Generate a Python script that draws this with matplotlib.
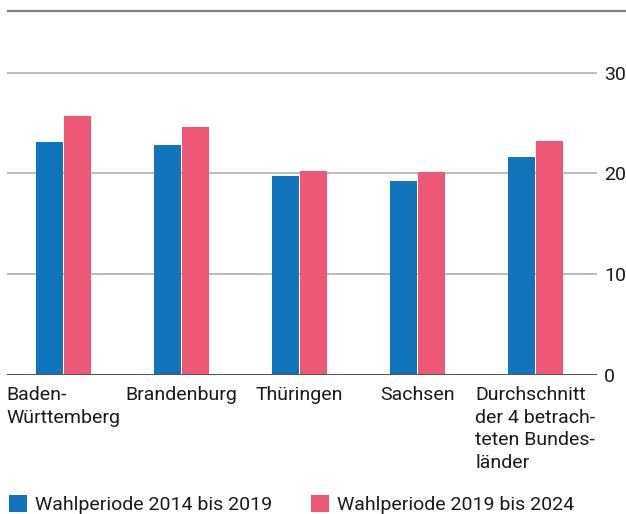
import numpy as np
import matplotlib.pyplot as plt
from matplotlib.lines import Line2D

plt.rcParams['font.family'] = ['Roboto', 'DejaVu Sans']

# Daten
laender = ['Baden-\nWürttemberg', 'Brandenburg', 'Thüringen', 'Sachsen',
           'Durchschnitt\nder 4 betrach-\nteten Bundes-\nländer']
periode_2014 = [23.1, 22.8, 19.7, 19.2, 21.6]
periode_2019 = [25.7, 24.6, 20.2, 20.1, 23.2]
serien = ['Wahlperiode 2014 bis 2019', 'Wahlperiode 2019 bis 2024']
farben = ['#1175be', '#ef5777']
y_ticks = [0, 10, 20, 30]

fig = plt.figure(figsize=(6.26, 5.14), dpi=100)
ax = fig.add_axes([7 / 626, 139 / 514, 590 / 626, 364 / 514])

x = np.arange(len(laender))
breite = 0.228
ax.bar(x - 0.118, periode_2014, breite, color=farben[0], label=serien[0], zorder=3)
ax.bar(x + 0.118, periode_2019, breite, color=farben[1], label=serien[1], zorder=3)

ax.set_xlim(-0.479, 4.521)
ax.set_ylim(0, 36.1)

# Gitterlinien
for t in y_ticks[1:]:
    ax.axhline(t, color='#b0b0b0', lw=1.2, zorder=1)
ax.axhline(0, color='#555555', lw=2.2, zorder=4)

for s in ax.spines.values():
    s.set_visible(False)

ax.yaxis.tick_right()
ax.set_yticks(y_ticks)
ax.set_yticklabels([str(t) for t in y_ticks])
ax.tick_params(axis='y', length=0, pad=5, labelsize=14, labelcolor='#1a1a1a')

ax.set_xticks(x)
ax.set_xticklabels(laender, multialignment='left', linespacing=1.32)
ax.tick_params(axis='x', length=0, pad=8, labelsize=14, labelcolor='#1a1a1a')

# Linie oben
fig.add_artist(Line2D([8 / 626, 1.0], [503 / 514, 503 / 514], color='#808080', lw=1.6))

fig.legend(loc='lower left', bbox_to_anchor=(9 / 626, 0.0), ncol=2, frameon=False,
           fontsize=14, handlelength=0.93, handleheight=1.0, handletextpad=0.4,
           columnspacing=2.0, borderpad=0, borderaxespad=0, labelcolor='#1a1a1a')

fig.savefig('out.png', dpi=100)
